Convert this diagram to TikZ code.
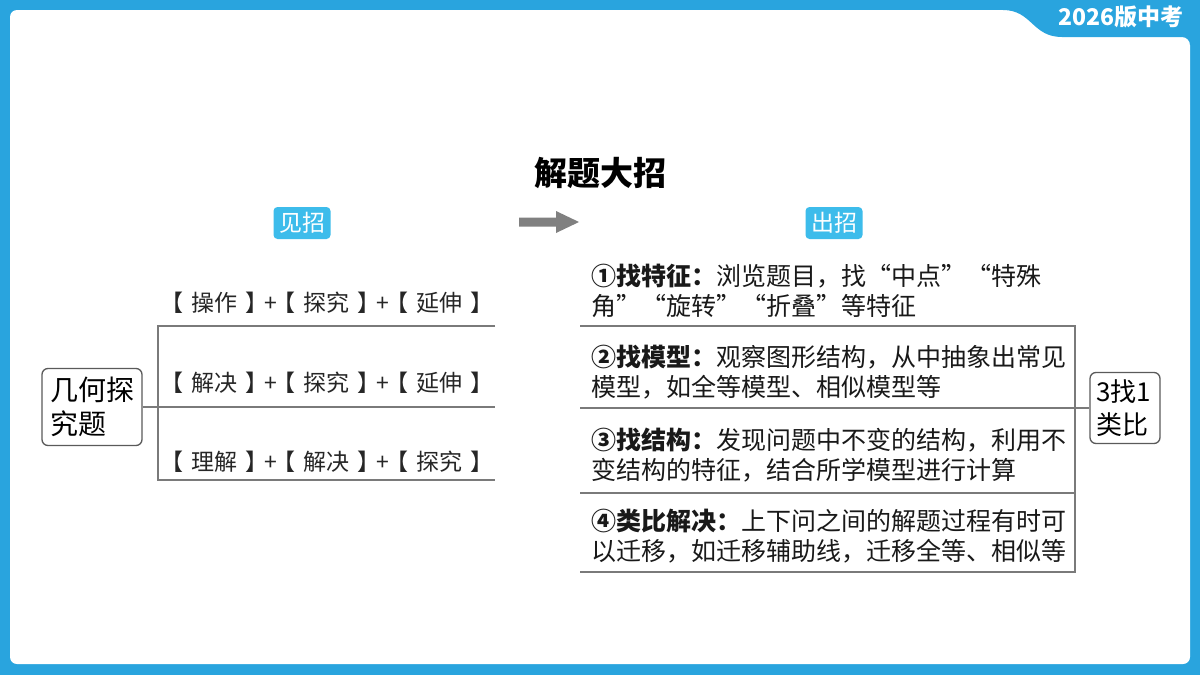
\documentclass[tikz,border=0pt]{standalone}
\usepackage{fontspec}
\setmainfont{Noto Sans CJK SC}
\definecolor{frameblue}{HTML}{29A4DE}
\definecolor{tagblue}{HTML}{3DBCEB}
\definecolor{linegray}{HTML}{7A7A7A}
\definecolor{boxgray}{HTML}{5A5A5A}
\definecolor{arrowgray}{HTML}{808080}
\newcommand\mybr[1]{【\hspace{8pt}#1\hspace{8pt}】}
\newcommand\mypl{\kern-4pt+\kern-4pt}
\tikzset{
  branch/.style={draw=linegray, line width=1.3pt},
  roundbox/.style={draw=boxgray, line width=1.3pt, rounded corners=6pt, fill=white, inner ysep=0pt, align=left},
  tagbox/.style={fill=tagblue, rounded corners=4pt, text=white, font=\fontsize{23}{23}\selectfont, minimum width=57pt, minimum height=32pt, inner sep=0pt},
  itemtext/.style={anchor=west, inner sep=0pt, font=\fontsize{23}{23}\selectfont, text=black!85},
  desctext/.style={anchor=west, inner sep=0pt, align=left, font=\fontsize{25}{30}\selectfont, text=black!90},
}
\begin{document}
\begin{tikzpicture}[x=1pt,y=-1pt]
\useasboundingbox (0,0) rectangle (1200,675);
% frame
\fill[frameblue] (0,0) rectangle (1200,675);
\fill[white, rounded corners=7pt] (10,10) rectangle (1190,664);
\fill[frameblue] (998,8) -- (1003,10) .. controls (1032,10) and (1032,37) .. (1062,37) -- (1182,37) .. controls (1186.4,37) and (1190,40.6) .. (1190,45) -- (1192,45) -- (1192,8) -- cycle;
\node[text=white, font=\bfseries\fontsize{23}{23}\selectfont, inner sep=0pt] (tag) at (1121,17) {2026版中考};
% title
\node[font=\bfseries\fontsize{33}{33}\selectfont, inner sep=0pt] (title) at (600,173) {解题大招};
\node[tagbox] (jian) at (302,223) {见招};
\node[tagbox] (chu) at (834,223) {出招};
\coordinate (arA) at (519,222);
\coordinate (arB) at (579,222);
\fill[arrowgray] (arA) ++(0,-4.5) -- ++(37,0) -- ++(0,-6.5) -- (arB) -- ++(-23,11) -- ++(0,-6.5) -- ++(-37,0) -- cycle;
% left part
\node[roundbox, minimum width=100pt, minimum height=77pt, text width=84pt, inner xsep=8pt, font=\fontsize{28}{34}\selectfont] (L) at (92,407) {几何探\\究题};
\coordinate (lt) at (158,326);
\coordinate (lb) at (158,480);
\coordinate (l1) at (495,326);
\coordinate (l2) at (495,407);
\coordinate (l3) at (495,480);
\draw[branch] (L.east) -- (l2);
\draw[branch] (l1) -- (lt) -- (lb) -- (l3);
\node[itemtext] (i1) at (160,303) {\mybr{操作}\mypl\mybr{探究}\mypl\mybr{延伸}};
\node[itemtext] (i2) at (160,383) {\mybr{解决}\mypl\mybr{探究}\mypl\mybr{延伸}};
\node[itemtext] (i3) at (160,462) {\mybr{理解}\mypl\mybr{解决}\mypl\mybr{探究}};
% right part
\node[roundbox, minimum width=70pt, minimum height=71pt, text width=58pt, inner xsep=6pt, font=\fontsize{26}{33}\selectfont] (R) at (1125,408) {3找1\\类比};
\coordinate (r0) at (580,326);
\coordinate (r1) at (580,408);
\coordinate (r2) at (580,493);
\coordinate (r3) at (580,572);
\coordinate (v0) at (1075,326);
\coordinate (v1) at (1075,408);
\coordinate (v2) at (1075,493);
\coordinate (v3) at (1075,572);
\draw[branch] (r0) -- (v0) -- (v3) -- (r3);
\draw[branch] (r1) -- (v1);
\draw[branch] (r2) -- (v2);
\draw[branch] (v1) -- (R.west);
\node[desctext] (d1) at (591,291) {\textbf{①找特征：}浏览题目，找“中点”“特殊\\角”“旋转”“折叠”等特征};
\node[desctext] (d2) at (591,372.5) {\textbf{②找模型：}观察图形结构，从中抽象出常见\\模型，如全等模型、相似模型等};
\node[desctext] (d3) at (591,455) {\textbf{③找结构：}发现问题中不变的结构，利用不\\变结构的特征，结合所学模型进行计算};
\node[desctext] (d4) at (591,536) {\textbf{④类比解决：}上下问之间的解题过程有时可\\以迁移，如迁移辅助线，迁移全等、相似等};
\end{tikzpicture}
\end{document}
